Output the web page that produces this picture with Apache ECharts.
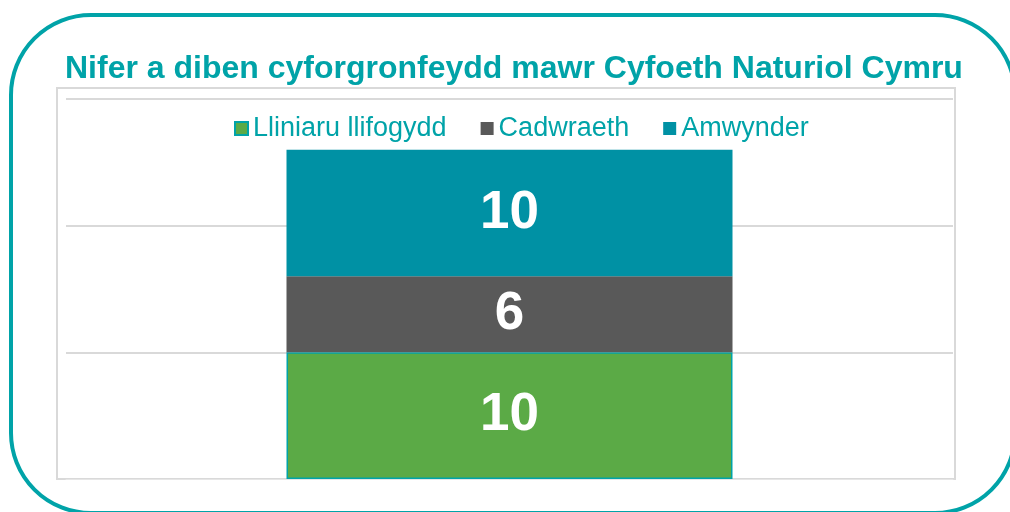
<!DOCTYPE html>
<html>
<head>
<meta charset="utf-8">
<script src="https://cdn.jsdelivr.net/npm/echarts@6/dist/echarts.min.js"></script>
<style>
html,body{margin:0;padding:0;background:#fff;}
#c{width:1010px;height:512px;}
</style>
</head>
<body>
<div id="c"></div>
<script>
const titleText = 'Nifer a diben cyforgronfeydd mawr Cyfoeth Naturiol Cymru';
const categories = [''];
const seriesNames = ['Lliniaru llifogydd', 'Cadwraeth', 'Amwynder'];
const floodValues = [10];
const conservationValues = [6];
const amenityValues = [10];
const yTicks = [0, 10, 20, 30];

const FONT = 'Liberation Sans';
const TEAL = '#00A3A8';
const colors = ['#5BAA46', '#595959', '#0091A4'];
const seriesData = [floodValues, conservationValues, amenityValues];

const chart = echarts.init(document.getElementById('c'), null, {renderer: 'canvas'});
chart.setOption({
  animation: false,
  backgroundColor: '#fff',
  title: {
    text: titleText,
    left: 65,
    top: 53,
    padding: 0,
    textStyle: {fontFamily: FONT, fontWeight: 'bold', fontSize: 32, color: TEAL}
  },
  legend: {
    top: 115,
    left: 234,
    padding: 0,
    itemWidth: 13,
    itemHeight: 13,
    itemGap: 34,
    icon: 'rect',
    textStyle: {fontFamily: FONT, fontSize: 27, color: TEAL},
    data: seriesNames
  },
  grid: {left: 66, right: 57, top: 99, bottom: 33, containLabel: false},
  xAxis: {
    type: 'category',
    data: categories,
    axisLine: {show: true, lineStyle: {color: '#E6E6E6', width: 1}},
    axisTick: {show: false},
    axisLabel: {show: false}
  },
  yAxis: {
    type: 'value',
    min: yTicks[0],
    max: yTicks[yTicks.length - 1],
    interval: 10,
    axisLine: {show: false},
    axisTick: {show: false},
    axisLabel: {show: false},
    splitLine: {lineStyle: {color: '#D9D9D9', width: 2}}
  },
  graphic: [
    {type: 'rect', z: -1, silent: true,
     shape: {x: 57, y: 88, width: 898, height: 391},
     style: {fill: 'none', stroke: '#D9D9D9', lineWidth: 2}},
    {type: 'rect', z: 100, silent: true,
     shape: {x: 11, y: 15, width: 1004, height: 498, r: 80},
     style: {fill: 'none', stroke: TEAL, lineWidth: 4}}
  ],
  series: seriesNames.map((name, i) => ({
    name: name,
    type: 'bar',
    stack: 'total',
    barWidth: 446,
    data: seriesData[i],
    itemStyle: i === 0
      ? {color: colors[i], borderColor: TEAL, borderWidth: 1.5}
      : {color: colors[i]},
    label: {
      show: true,
      position: 'inside',
      color: '#fff',
      fontFamily: FONT,
      fontWeight: 'bold',
      fontSize: 53
    }
  }))
});
</script>
</body>
</html>
